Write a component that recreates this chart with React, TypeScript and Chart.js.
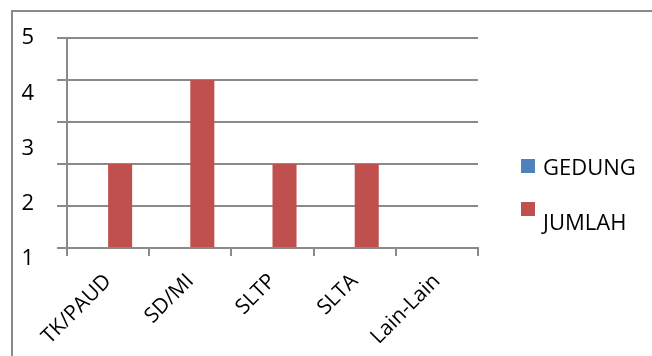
import React, { useEffect, useRef } from 'react';
import { Chart, registerables } from 'chart.js';

Chart.register(...registerables);

const categories = ['TK/PAUD', 'SD/MI', 'SLTP', 'SLTA', 'Lain-Lain'];
const seriesNames = ['GEDUNG', 'JUMLAH'];
const seriesColors = ['#4F81BD', '#C0504D'];
const gedungValues = [0, 0, 0, 0, 0];
const jumlahValues = [2, 4, 2, 2, 0];
const gridMin = 0;
const gridMax = 5;
const yTickLabels = [1, 2, 3, 4, 5];
const labelAxisMin = 1.2;
const labelAxisMax = 5;

const GRID = '#8a8a8a';
const FONT = '"Open Sans"';

const sideLegend = {
  id: 'sideLegend',
  afterDraw(chart: any, _args: any, opts: any) {
    const { ctx, chartArea } = chart;
    ctx.save();
    ctx.font = `${opts.fontSize}px ${FONT}`;
    ctx.textBaseline = 'middle';
    ctx.textAlign = 'left';
    chart.data.datasets.forEach((ds: any, i: number) => {
      const cy = chartArea.top + opts.firstOffset + i * opts.spacing;
      const bx = chartArea.right + opts.gap;
      ctx.fillStyle = ds.backgroundColor;
      ctx.fillRect(bx, cy - opts.box / 2, opts.box, opts.box);
      ctx.fillStyle = '#000';
      ctx.fillText(ds.label, bx + opts.box + opts.textGap, cy + opts.textShift[i]);
    });
    ctx.restore();
  },
};

export default function App() {
  const ref = useRef<HTMLCanvasElement | null>(null);

  useEffect(() => {
    if (!ref.current) return;
    const chart = new Chart(ref.current, {
      type: 'bar',
      data: {
        labels: categories,
        datasets: [
          { label: seriesNames[0], data: gedungValues, backgroundColor: seriesColors[0], yAxisID: 'y' },
          { label: seriesNames[1], data: jumlahValues, backgroundColor: seriesColors[1], yAxisID: 'y' },
        ],
      },
      plugins: [sideLegend],
      options: {
        animation: false,
        responsive: false,
        events: [],
        layout: { padding: { left: 17, top: 38, right: 174, bottom: 4 } },
        datasets: { bar: { categoryPercentage: 0.585, barPercentage: 1 } },
        plugins: {
          tooltip: { enabled: false },
          legend: { display: false },
          sideLegend: {
            fontSize: 22,
            box: 14,
            gap: 43,
            textGap: 8,
            firstOffset: 128,
            spacing: 43,
            textShift: [3, 15],
          },
        },
        scales: {
          x: {
            grid: {
              offset: true,
              drawOnChartArea: false,
              drawTicks: true,
              tickLength: 8,
              color: GRID,
              lineWidth: 2,
            },
            border: { color: GRID, width: 2 },
            ticks: {
              minRotation: 45,
              maxRotation: 45,
              autoSkip: false,
              padding: 13,
              color: '#000',
              font: { family: 'Open Sans', size: 21 },
            },
            afterFit: (s: any) => {
              s.height = 104;
            },
          },
          y: {
            type: 'linear',
            position: 'left',
            weight: 0,
            min: gridMin,
            max: gridMax,
            ticks: { stepSize: 1, display: false },
            grid: { color: GRID, lineWidth: 2, tickLength: 10, drawTicks: true },
            border: { color: GRID, width: 2 },
          },
          yl: {
            type: 'linear',
            position: 'left',
            weight: 1,
            min: labelAxisMin,
            max: labelAxisMax,
            grid: { display: false },
            border: { display: false },
            ticks: {
              autoSkip: false,
              padding: 15,
              color: '#000',
              font: { family: 'Open Sans', size: 22 },
            },
            afterBuildTicks: (s: any) => {
              s.ticks = yTickLabels.map((v) => ({ value: v }));
            },
            afterFit: (s: any) => {
              s.width = 40;
            },
          },
        },
      } as any,
    });
    return () => chart.destroy();
  }, []);

  return (
    <div style={{ position: 'fixed', left: 0, top: 0, width: 652, height: 356, overflow: 'hidden', background: '#fff' }}>
      <div
        style={{
          position: 'absolute',
          left: 11,
          top: 10,
          width: 700,
          height: 400,
          border: '2px solid #8a8a8a',
          boxSizing: 'border-box',
        }}
      />
      <canvas ref={ref} width={652} height={356} style={{ position: 'absolute', left: 0, top: 0, width: 652, height: 356 }} />
    </div>
  );
}
